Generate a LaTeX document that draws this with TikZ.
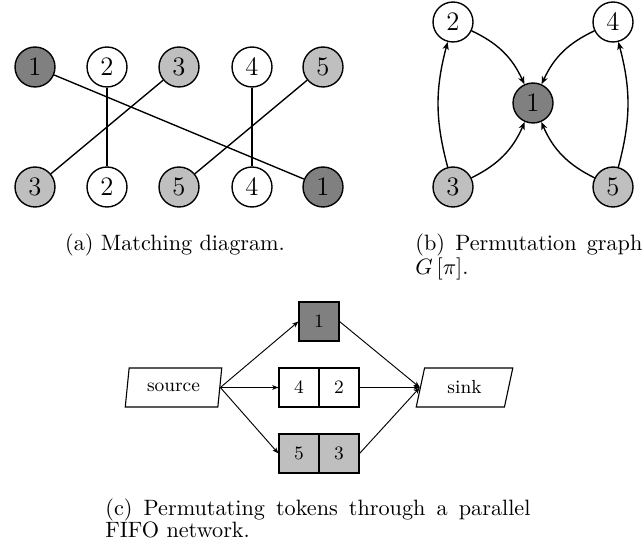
\documentclass[tikz,border=0pt]{standalone}
\usetikzlibrary{shapes.geometric,arrows.meta}
\begin{document}
\begin{tikzpicture}[x=0.4503pt,y=-0.4503pt,
  vtx/.style={circle,draw,line width=0.62pt,minimum size=18pt,inner sep=0pt,font=\fontsize{12}{14}\selectfont},
  dark/.style={fill=gray},
  light/.style={fill=lightgray},
  edge/.style={line width=0.62pt},
  arr/.style={line width=0.62pt,-{Stealth[length=3.5pt,width=2.8pt,inset=1pt]}},
  tok/.style={rectangle,draw,line width=0.5pt,minimum width=18pt,minimum height=17.6pt,inner sep=0pt,font=\fontsize{8.5}{10}\selectfont},
  term/.style={trapezium,trapezium left angle=75,trapezium right angle=105,trapezium stretches=true,draw,line width=0.5pt,minimum width=43.5pt,minimum height=17.6pt,inner sep=0pt,font=\fontsize{8.5}{10}\selectfont},
  flow/.style={line width=0.42pt,-{Stealth[length=2.8pt,width=2.1pt,inset=0.7pt]}},
  captext/.style={font=\fontsize{10}{9.9}\selectfont,inner sep=0pt}]
\useasboundingbox (0,0) rectangle (643,549);
% (a)
\node[vtx,dark]  (a1) at (35,67) {1};
\node[vtx]       (a2) at (107,67) {2};
\node[vtx,light] (a3) at (179,67) {3};
\node[vtx]       (a4) at (252,67) {4};
\node[vtx,light] (a5) at (323,67) {5};
\node[vtx,light] (b3) at (35,187) {3};
\node[vtx]       (b2) at (107,187) {2};
\node[vtx,light] (b5) at (179,187) {5};
\node[vtx]       (b4) at (252,187) {4};
\node[vtx,dark]  (b1) at (323,187) {1};
\draw[edge] (a1) -- (b1);
\draw[edge] (a2) -- (b2);
\draw[edge] (a3) -- (b3);
\draw[edge] (a4) -- (b4);
\draw[edge] (a5) -- (b5);
\node[captext,anchor=base] (capa) at (175,250) {(a) Matching diagram.};
% (b)
\node[vtx]       (g2) at (453,22) {2};
\node[vtx]       (g4) at (613,22) {4};
\node[vtx,dark]  (g1) at (533,103) {1};
\node[vtx,light] (g3) at (453,187) {3};
\node[vtx,light] (g5) at (613,187) {5};
\draw[arr] (g2) to[bend left=20] (g1);
\draw[arr] (g4) to[bend right=20] (g1);
\draw[arr] (g3) to[bend right=20] (g1);
\draw[arr] (g5) to[bend left=20] (g1);
\draw[arr] (g3) to[bend left=15] (g2);
\draw[arr] (g5) to[bend right=15] (g4);
\node[captext,anchor=north west,text width=102.2pt,align=justify] (capb) at (415,233) {(b) Permutation graph\linebreak $G\left[\pi\right]$.};
% (c)
\node[term] (src) at (173.5,387.5) {source};
\node[term] (snk) at (464.5,387.5) {sink};
\node[tok,dark] (t1) at (319,321.5) {1};
\node[tok] (t4) at (299,387.5) {4};
\node[tok] (t2) at (339,387.5) {2};
\node[tok,light] (t5) at (299,453.5) {5};
\node[tok,light] (t3) at (339,453.5) {3};
\draw[flow] (src.east) -- (t1.west);
\draw[flow] (src.east) -- (t4.west);
\draw[flow] (src.east) -- (t5.west);
\draw[flow] (t1.east) -- (snk.west);
\draw[flow] (t2.east) -- (snk.west);
\draw[flow] (t3.east) -- (snk.west);
\node[captext,anchor=north west,text width=191.4pt,align=justify] (capc) at (105,498) {(c) Permutating tokens through a parallel\linebreak FIFO network.};
\end{tikzpicture}
\end{document}
